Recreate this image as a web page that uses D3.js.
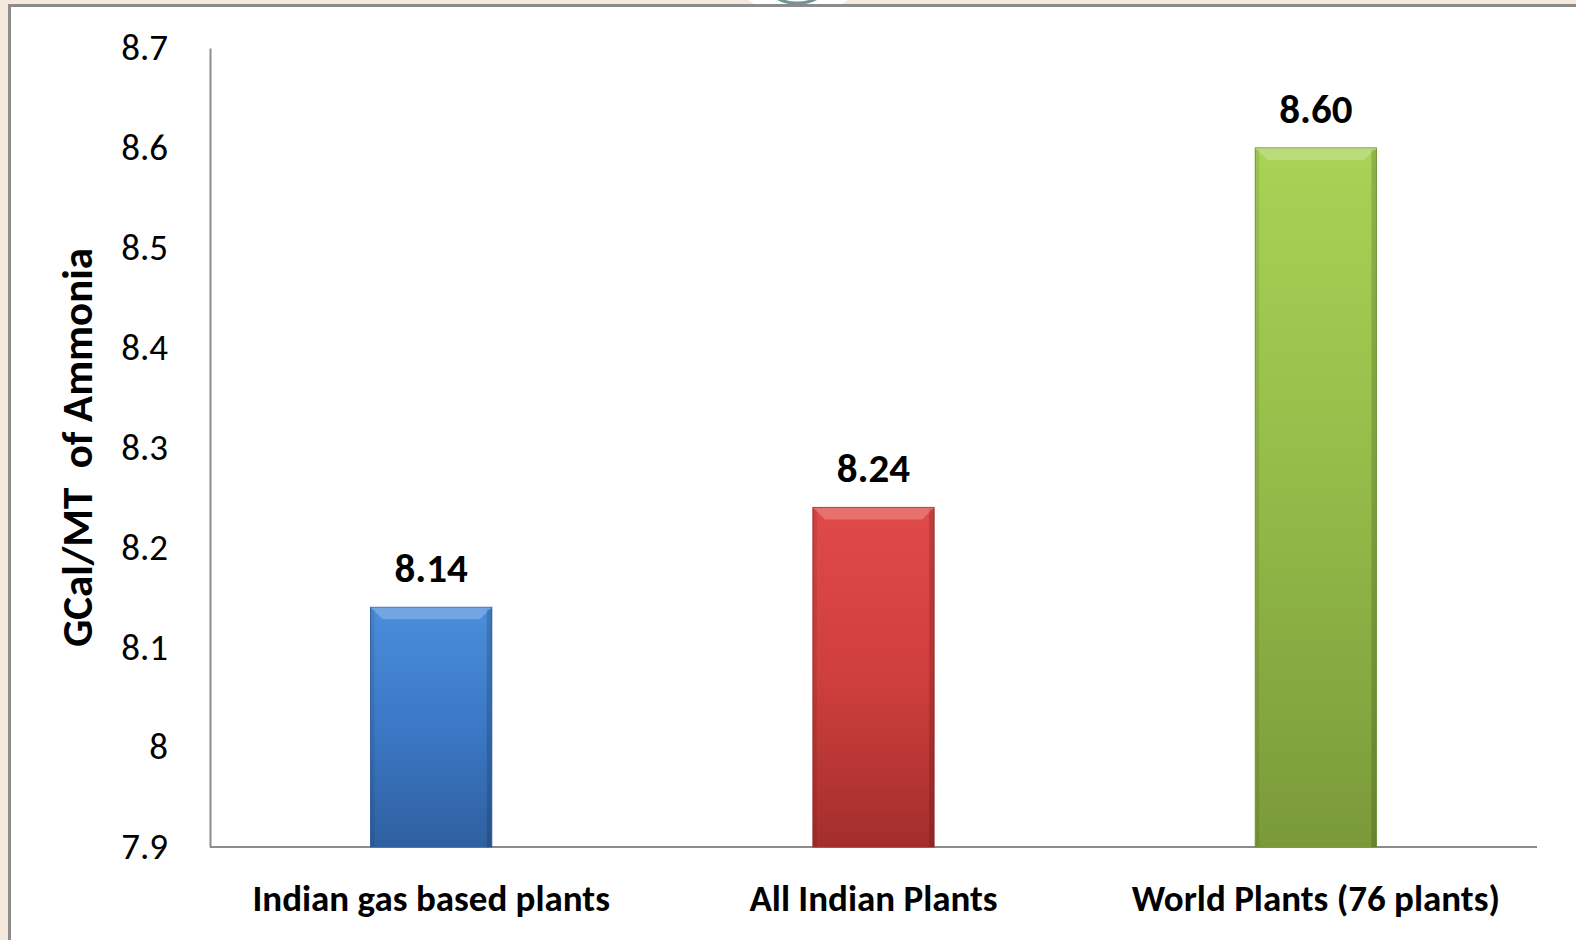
<!DOCTYPE html>
<html lang="en">
<head>
<meta charset="UTF-8">
<title>GCal/MT of Ammonia</title>
<style>
  body { margin: 0; background: #f5e9dd; }
  svg { display: block; font-family: Carlito, Calibri, Lato, "Open Sans", sans-serif; }
</style>
</head>
<body>
<script src="https://d3js.org/d3.v7.min.js"></script>
<div id="chart"></div>
<script>
// data
const categories = ["Indian gas based plants", "All Indian Plants", "World Plants (76 plants)"];
const values = [8.14, 8.24, 8.60];
const valueLabels = ["8.14", "8.24", "8.60"];
const yTicks = [7.9, 8, 8.1, 8.2, 8.3, 8.4, 8.5, 8.6, 8.7];
const barColors = [
  ["#4a8edb", "#3b78c5", "#2f60a0"],
  ["#e04a48", "#cf3f3d", "#a32e2c"],
  ["#a8d356", "#93ba48", "#7a9a39"]
];

const W = 1576, H = 940;
const margin = {top: 48, right: 39, bottom: 93, left: 210};

const svg = d3.select("#chart").append("svg")
  .attr("width", W).attr("height", H);

// frame (slide background)
svg.append("rect").attr("width", W).attr("height", H).attr("fill", "#f5e9dd");
svg.append("rect").attr("x", 8).attr("y", 4).attr("width", W).attr("height", H)
  .attr("fill", "#ffffff");
svg.append("path").attr("d", `M9.5,${H} V5.5 H${W}`)
  .attr("fill", "none").attr("stroke", "#8c8c8c").attr("stroke-width", 3);
// top ornament
svg.append("path").attr("d", "M748,0 L848,0 L842,4 L754,4 Z").attr("fill", "#ffffff");
svg.append("ellipse").attr("cx", 797).attr("cy", -14).attr("rx", 29).attr("ry", 17)
  .attr("fill", "none").attr("stroke", "#6f9595").attr("stroke-width", 3);
svg.append("line").attr("x1", 8).attr("x2", W).attr("y1", 5.5).attr("y2", 5.5)
  .attr("stroke", "#8c8c8c").attr("stroke-width", 3);

const defs = svg.append("defs");
barColors.forEach((c, i) => {
  const g = defs.append("linearGradient").attr("id", "grad" + i)
    .attr("x1", 0).attr("y1", 0).attr("x2", 0).attr("y2", 1);
  g.append("stop").attr("offset", "0%").attr("stop-color", c[0]);
  g.append("stop").attr("offset", "50%").attr("stop-color", c[1]);
  g.append("stop").attr("offset", "100%").attr("stop-color", c[2]);
});

const x = d3.scaleBand().domain(categories)
  .range([margin.left, W - margin.right]).paddingInner(0.726).paddingOuter(0.363);
const y = d3.scaleLinear().domain([7.9, 8.7]).range([H - margin.bottom, margin.top]);

// y axis
const yAxis = svg.append("g").attr("transform", `translate(${margin.left},0)`)
  .call(d3.axisLeft(y).tickValues(yTicks).tickSize(0).tickPadding(42)
    .tickFormat(d => d3.format("")(+d.toFixed(1))));
yAxis.select(".domain").attr("stroke", "#8c8c8c").attr("stroke-width", 2);
yAxis.selectAll("text").attr("font-size", 37).attr("fill", "#000")
  .attr("font-family", "Carlito, Calibri, Lato, sans-serif");

// x axis
const xAxis = svg.append("g").attr("transform", `translate(0,${H - margin.bottom})`)
  .call(d3.axisBottom(x).tickSize(0).tickPadding(38).tickSizeOuter(0));
xAxis.select(".domain").attr("stroke", "#8c8c8c").attr("stroke-width", 2)
  .attr("d", `M${margin.left},0H${W - margin.right}`);
xAxis.selectAll("text").attr("font-size", 37).attr("font-weight", "bold").attr("fill", "#000")
  .attr("font-family", "Carlito, Calibri, Lato, sans-serif");

// bars
const bars = svg.append("g").selectAll("g").data(values).join("g");
bars.append("rect")
  .attr("x", (d, i) => x(categories[i]))
  .attr("y", d => y(d))
  .attr("width", x.bandwidth())
  .attr("height", d => y(7.9) - y(d))
  .attr("fill", (d, i) => `url(#grad${i})`)
  .attr("stroke", (d, i) => barColors[i][2]).attr("stroke-width", 1);
// bevel highlight at top and shade at sides
bars.append("path")
  .attr("d", (d, i) => {
    const x0 = x(categories[i]), x1 = x0 + x.bandwidth(), y0 = y(d);
    return `M${x0},${y0} L${x1},${y0} L${x1 - 12},${y0 + 12} L${x0 + 12},${y0 + 12} Z`;
  })
  .attr("fill", "#ffffff").attr("opacity", 0.22);
bars.append("rect")
  .attr("x", (d, i) => x(categories[i]) + x.bandwidth() - 5)
  .attr("y", d => y(d) + 2)
  .attr("width", 5)
  .attr("height", d => y(7.9) - y(d) - 2)
  .attr("fill", "#000").attr("opacity", 0.15);
bars.append("rect")
  .attr("x", (d, i) => x(categories[i]))
  .attr("y", d => y(d) + 2)
  .attr("width", 4)
  .attr("height", d => y(7.9) - y(d) - 2)
  .attr("fill", "#000").attr("opacity", 0.08);

// value labels
bars.append("text")
  .attr("x", (d, i) => x(categories[i]) + x.bandwidth() / 2)
  .attr("y", d => y(d) - 25)
  .attr("text-anchor", "middle")
  .attr("font-size", 41).attr("font-weight", "bold").attr("fill", "#000")
  .text((d, i) => valueLabels[i]);

// y axis title
svg.append("text")
  .attr("transform", `translate(92,${(y(7.9) + y(8.7)) / 2}) rotate(-90)`)
  .attr("text-anchor", "middle")
  .style("white-space", "pre")
  .attr("font-size", 43).attr("font-weight", "bold").attr("fill", "#000")
  .text("GCal/MT  of Ammonia");
</script>
</body>
</html>
